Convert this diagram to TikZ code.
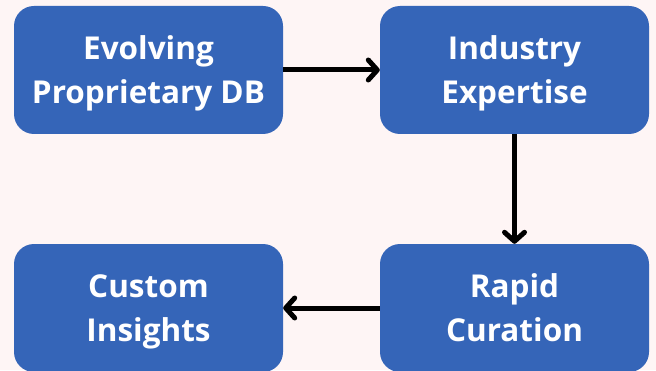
\documentclass[tikz,border=0pt]{standalone}
\usepackage{fontspec}
\setmainfont{Open Sans}
\usetikzlibrary{arrows.meta}

\definecolor{boxblue}{RGB}{53,101,184}
\definecolor{bgpink}{RGB}{254,245,245}

\begin{document}
\begin{tikzpicture}[x=1pt, y=1pt, >={Straight Barb[length=9pt, width=20pt, line cap=round, line join=round]}]

	\tikzset{
		stepbox/.style={rectangle, rounded corners=20pt, fill=boxblue,
			minimum width=269pt, minimum height=128pt, align=center,
			text depth=0pt,
			text=white, font=\bfseries\fontsize{31.5}{44}\selectfont},
		flow/.style={->, line width=5pt, black}
	}

	% background
	\fill[bgpink] (0,0) rectangle (656,370);
	\useasboundingbox (0,0) rectangle (656,370);

	% boxes
	\node[stepbox] (db) at (148.5,300) {Evolving\\Proprietary DB};
	\node[stepbox] (expert) at (514.5,300) {Industry\\Expertise};
	\node[stepbox] (curation) at (514.5,62) {Rapid\\Curation};
	\node[stepbox] (insights) at (148.5,62) {Custom\\Insights};

	% arrows
	\draw[flow] (db.east) -- (expert.west);
	\draw[flow] (expert.south) -- (curation.north);
	\draw[flow] (curation.west) -- (insights.east);

\end{tikzpicture}
\end{document}
